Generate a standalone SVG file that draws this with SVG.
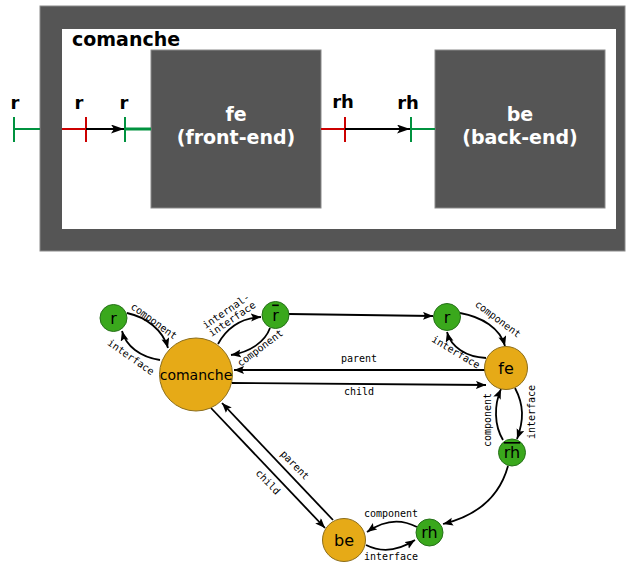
<svg xmlns="http://www.w3.org/2000/svg" width="628" height="563" viewBox="0 0 628 563">
<defs>
<style>
.box{fill:#555555;stroke:#8a8a8a;stroke-width:1}
.btxt{font-family:"DejaVu Sans",sans-serif;font-weight:bold;font-size:19px;fill:#ffffff;text-anchor:middle}
.ltxt{font-family:"DejaVu Sans",sans-serif;font-weight:bold;font-size:18px;fill:#000;text-anchor:middle}
.grn{stroke:#00923f;stroke-width:2;fill:none}
.red{stroke:#cc0000;stroke-width:2;fill:none}
.blk{stroke:#000;stroke-width:1.8;fill:none}
.edge{stroke:#000;stroke-width:1.8;fill:none;marker-end:url(#ah)}
.gn{fill:#3aa81c;stroke:#26701a;stroke-width:1}
.on{fill:#e6aa17;stroke:#8c6d1a;stroke-width:1}
.ntxt{font-family:"DejaVu Sans",sans-serif;font-size:16px;fill:#000;text-anchor:middle}
.ctxt{font-family:"DejaVu Sans",sans-serif;font-size:14px;fill:#000;text-anchor:middle}
.etxt{font-family:"DejaVu Sans Mono",monospace;font-size:10px;fill:#000;text-anchor:middle}
</style>
<marker id="ah" markerUnits="userSpaceOnUse" markerWidth="11" markerHeight="9" refX="10" refY="4" orient="auto">
<path d="M0,0 L10,4 L0,8 L2,4 z" fill="#000"/>
</marker>
<marker id="ah2" markerUnits="userSpaceOnUse" markerWidth="14" markerHeight="10" refX="13" refY="4.5" orient="auto">
<path d="M0,0 L13,4.5 L0,9 L3,4.5 z" fill="#000"/>
</marker>
</defs>

<!-- top diagram -->
<g id="comanche-box">
<rect x="40" y="6" width="585" height="245" class="box"/>
<rect x="62" y="29" width="554" height="200" fill="#ffffff"/>
<text x="72" y="46" font-family="'DejaVu Sans',sans-serif" font-weight="bold" font-size="19" fill="#000">comanche</text>
</g>
<g id="fe-box">
<rect x="151" y="50" width="170" height="158" class="box"/>
<text x="236" y="121" class="btxt">fe</text>
<text x="236" y="144" class="btxt">(front-end)</text>
</g>
<g id="be-box">
<rect x="435" y="50" width="170" height="158" class="box"/>
<text x="520" y="121" class="btxt">be</text>
<text x="520" y="144" class="btxt">(back-end)</text>
</g>
<g id="ports">
<line x1="14" y1="117" x2="14" y2="142" class="grn"/>
<line x1="14" y1="129" x2="40" y2="129" class="grn"/>
<text x="15" y="109" class="ltxt">r</text>
<line x1="62" y1="129" x2="86" y2="129" class="red"/>
<line x1="86" y1="117" x2="86" y2="142" class="red"/>
<text x="79" y="109" class="ltxt">r</text>
<line x1="125" y1="117" x2="125" y2="142" class="grn"/>
<line x1="125" y1="129" x2="151" y2="129" stroke="#00923f" stroke-width="3"/>
<text x="124" y="109" class="ltxt">r</text>
<line x1="321" y1="129" x2="345" y2="129" class="red"/>
<line x1="345" y1="117" x2="345" y2="142" class="red"/>
<text x="343" y="108" class="ltxt">rh</text>
<line x1="411" y1="117" x2="411" y2="142" class="grn"/>
<line x1="411" y1="129" x2="435" y2="129" class="grn"/>
<text x="408" y="109" class="ltxt">rh</text>
</g>
<g id="top-connectors">
<line x1="86" y1="129" x2="124" y2="129" class="blk" marker-end="url(#ah2)"/>
<line x1="345" y1="129" x2="410" y2="129" class="blk" marker-end="url(#ah2)"/>
</g>

<!-- graph connectors -->
<g id="connectors">
<path d="M127,313 C146,317 163,330 168,348" class="edge"/>
<path d="M160,360 C140,357 126,346 122,331" class="edge"/>
<path d="M218,344 C228,326 242,318 261,317" class="edge"/>
<path d="M270,328 C265,342 250,352 231,355" class="edge"/>
<path d="M289,314 L433,316" class="edge"/>
<path d="M485,370 L234,370" class="edge"/>
<path d="M232,383 L486,385" class="edge"/>
<path d="M460,313 C482,317 500,328 505,346" class="edge"/>
<path d="M486,358 C466,357 451,347 447,332" class="edge"/>
<path d="M503,440 C494,425 494,405 501,389" class="edge"/>
<path d="M515,388 C524,405 524,420 517,439" class="edge"/>
<path d="M508,466 C500,495 480,515 443,524" class="edge"/>
<path d="M211,408 L325,528" class="edge"/>
<path d="M333,520 L222,403" class="edge"/>
<path d="M417,527 C400,518 384,520 367,532" class="edge"/>
<path d="M366,545 C382,553 398,551 415,540" class="edge"/>

<text class="etxt" transform="translate(154,321) rotate(36)" y="3.5">component</text>
<text class="etxt" transform="translate(131,357) rotate(35)" y="3.5">interface</text>
<text class="etxt" transform="translate(226,311) rotate(-34)" y="3.5">internal-</text>
<text class="etxt" transform="translate(232,319) rotate(-34)" y="3.5">interface</text>
<text class="etxt" transform="translate(260,348) rotate(-37)" y="3.5">component</text>
<text class="etxt" x="359" y="362">parent</text>
<text class="etxt" x="359" y="395">child</text>
<text class="etxt" transform="translate(498,319) rotate(37)" y="3.5">component</text>
<text class="etxt" transform="translate(456,352) rotate(31)" y="3.5">interface</text>
<text class="etxt" transform="translate(487,420) rotate(-90)" y="3.5">component</text>
<text class="etxt" transform="translate(531,412) rotate(-90)" y="3.5">interface</text>
<text class="etxt" transform="translate(268,482) rotate(46)" y="3.5">child</text>
<text class="etxt" transform="translate(295,465) rotate(46)" y="3.5">parent</text>
<text class="etxt" x="391" y="517">component</text>
<text class="etxt" x="391" y="560">interface</text>
</g>

<!-- graph nodes -->
<g id="n-r1"><circle cx="113.5" cy="318" r="13.5" class="gn"/><text x="113.5" y="323.5" class="ntxt">r</text></g>
<g id="n-rbar"><circle cx="275.5" cy="315" r="13.5" class="gn"/><text x="275.5" y="320.5" class="ntxt" text-decoration="overline">r</text></g>
<g id="n-comanche"><circle cx="196" cy="374.5" r="36.5" class="on"/><text x="196" y="380" class="ctxt">comanche</text></g>
<g id="n-r2"><circle cx="447" cy="317" r="13.5" class="gn"/><text x="447" y="322.5" class="ntxt">r</text></g>
<g id="n-fe"><circle cx="506" cy="368" r="21.5" class="on"/><text x="506" y="373.5" class="ntxt">fe</text></g>
<g id="n-rhbar"><circle cx="512" cy="452.5" r="13.5" class="gn"/><text x="512" y="458" class="ntxt" text-decoration="overline">rh</text></g>
<g id="n-be"><circle cx="344" cy="540" r="21.5" class="on"/><text x="344" y="545.5" class="ntxt">be</text></g>
<g id="n-rh"><circle cx="429.5" cy="532.5" r="13.5" class="gn"/><text x="429.5" y="538" class="ntxt">rh</text></g>
</svg>
